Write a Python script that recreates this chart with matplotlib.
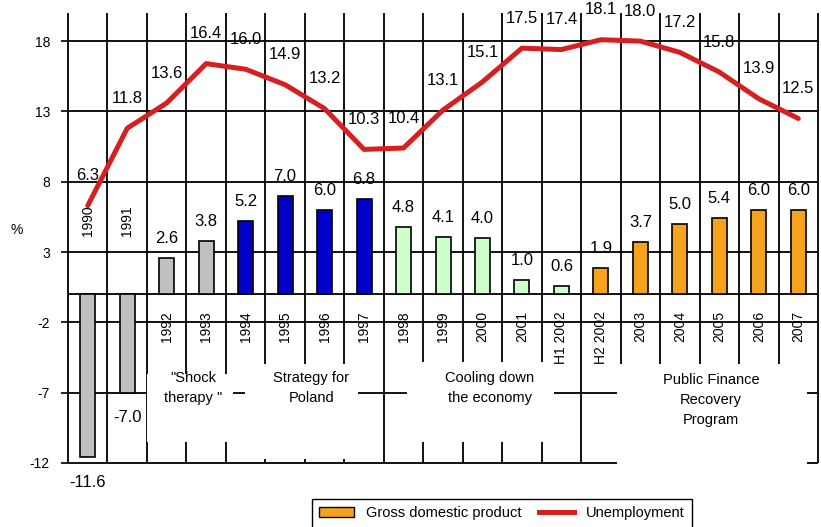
import matplotlib
matplotlib.use("Agg")
import matplotlib.pyplot as plt
from matplotlib.patches import Rectangle, Patch
from matplotlib.lines import Line2D
import numpy as np

plt.rcParams['font.family'] = ['Liberation Sans', 'DejaVu Sans']
plt.rcParams['axes.unicode_minus'] = False

years = ["1990", "1991", "1992", "1993", "1994", "1995", "1996", "1997", "1998",
         "1999", "2000", "2001", "H1 2002", "H2 2002", "2003", "2004", "2005",
         "2006", "2007"]
gdp = [-11.6, -7.0, 2.6, 3.8, 5.2, 7.0, 6.0, 6.8, 4.8, 4.1, 4.0, 1.0, 0.6,
       1.9, 3.7, 5.0, 5.4, 6.0, 6.0]
unemployment = [6.3, 11.8, 13.6, 16.4, 16.0, 14.9, 13.2, 10.3, 10.4, 13.1,
                15.1, 17.5, 17.4, 18.1, 18.0, 17.2, 15.8, 13.9, 12.5]

# economic policy periods
periods = ['"Shock\ntherapy "', "Strategy for\nPoland",
           "Cooling down\nthe economy", "Public Finance\nRecovery\nProgram"]
period_colors = ["#c0c0c0", "#0000c8", "#ccffcc", "#f5a21e"]
period_of_year = [0, 0, 0, 0, 1, 1, 1, 1, 2, 2, 2, 2, 2, 3, 3, 3, 3, 3, 3]

yticks = [18, 13, 8, 3, -2, -7, -12]

fig = plt.figure(figsize=(8.21, 5.27), dpi=100)
ax = fig.add_axes([68/821, 64/527, 750/821, 450/527])
n = len(years)
x = np.arange(n)
ax.set_xlim(-0.5, n - 0.5)
ax.set_ylim(-12, 20)
for s in ax.spines.values():
    s.set_visible(False)
ax.set_xticks([])
ax.set_yticks(yticks)
ax.tick_params(axis='y', direction='out', length=5, width=1.2, pad=8, labelsize=10)

# grid drawn by hand, text boxes cover parts of it below zero
ax.hlines(yticks + [0], -0.5, n - 0.5, color='k', lw=1.3, zorder=1, clip_on=False)
ax.vlines(np.arange(n + 1) - 0.5, -12, 20, color='k', lw=1.3, zorder=1, clip_on=False)

boxes = [(1.49, 3.68, -10.5, -5.7), (3.98, 6.84, -11.7, -4.93),
         (8.08, 11.82, -10.5, -4.8), (13.4, 18.23, -12.6, -4.93)]
text_pos = [(2.67, -6.64), (5.66, -6.64), (10.19, -6.64), (15.79, -7.5)]
for (x0, x1, y0, y1), (tx, ty), txt in zip(boxes, text_pos, periods):
    ax.add_patch(Rectangle((x0, y0), x1 - x0, y1 - y0, facecolor='white',
                           edgecolor='none', zorder=2, clip_on=False))
    ax.text(tx, ty, txt, ha='center', va='center', fontsize=10.5,
            linespacing=1.55, zorder=5)

colors = [period_colors[p] for p in period_of_year]
ax.bar(x, gdp, width=0.38, color=colors, edgecolor='k', lw=1.2, zorder=3)

ax.plot(x, unemployment, color='#d42020', lw=3.6, zorder=4,
        solid_joinstyle='round', solid_capstyle='round')

for xi, g, u, yr in zip(x, gdp, unemployment, years):
    if g >= 0:
        ax.annotate(f"{g:.1f}", (xi, g), xytext=(0, 14), textcoords='offset points',
                    ha='center', va='center', fontsize=12, zorder=5)
        ax.text(xi, -1.2, yr, rotation=90, ha='center', va='top', fontsize=10, zorder=5)
    else:
        ax.annotate(f"{g:.1f}", (xi, g), xytext=(0, -18), textcoords='offset points',
                    ha='center', va='center', fontsize=12, zorder=5)
        ax.text(xi, 6.3, yr, rotation=90, ha='center', va='top', fontsize=10, zorder=5)
    ax.annotate(f"{u:.1f}", (xi, u), xytext=(0, 21.5), textcoords='offset points',
                ha='center', va='center', fontsize=12, zorder=5)

fig.text(17/821, 1 - 230/527, "%", ha='center', va='center', fontsize=10)

handles = [Patch(facecolor=period_colors[3], edgecolor='k'),
           Line2D([], [], color='#d42020', lw=3.6)]
fig.legend(handles, ["Gross domestic product", "Unemployment"], loc='upper left',
           bbox_to_anchor=(312/821, 1 - 499/527), ncol=2, frameon=True,
           fancybox=False, edgecolor='k', framealpha=1, fontsize=10.5,
           handlelength=2.4, columnspacing=1.2, handletextpad=0.8,
           borderaxespad=0, borderpad=0.5)

fig.savefig("out.png", dpi=100)
